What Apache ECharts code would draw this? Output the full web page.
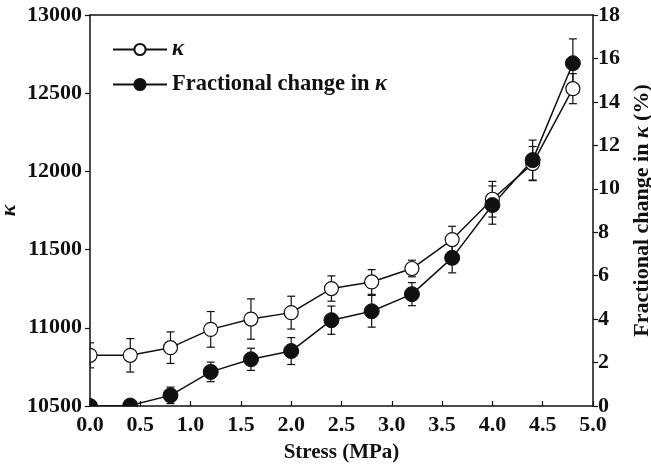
<!DOCTYPE html>
<html>
<head>
<meta charset="utf-8">
<script src="https://cdn.jsdelivr.net/npm/echarts@6/dist/echarts.min.js"></script>
<style>html,body{margin:0;padding:0;background:#fff}#c{width:651px;height:466px}</style>
</head>
<body>
<div id="c"></div>
<script>
const stress = [0, 0.4, 0.8, 1.2, 1.6, 2.0, 2.4, 2.8, 3.2, 3.6, 4.0, 4.4, 4.8];
const kappa = [10824, 10824, 10873, 10990, 11056, 11097, 11251, 11293, 11379, 11564, 11822, 12050, 12529];
const kappaErr = [80, 107, 101, 114, 129, 105, 81, 79, 53, 85, 114, 109, 96];
const fracChange = [0, 0.02, 0.49, 1.57, 2.15, 2.53, 3.95, 4.36, 5.15, 6.82, 9.25, 11.32, 15.78];
const fracErr = [0.2, 0.2, 0.38, 0.45, 0.51, 0.62, 0.65, 0.73, 0.53, 0.69, 0.88, 0.92, 1.12];
const xTicks = ['0.0','0.5','1.0','1.5','2.0','2.5','3.0','3.5','4.0','4.5','5.0'];

const FONT = 'Liberation Serif';
const chart = echarts.init(document.getElementById('c'), null, {renderer: 'canvas'});

const GL = 90, GR = 58, GT = 15, GB = 60;

function errSeries(vals, errs, yIdx) {
  return {
    type: 'custom',
    xAxisIndex: 0,
    yAxisIndex: yIdx,
    clip: true,
    silent: true,
    z: 1,
    data: stress.map((s, i) => [s, vals[i], errs[i]]),
    renderItem: function (params, api) {
      const x = api.value(0), y = api.value(1), e = api.value(2);
      const top = api.coord([x, y + e]);
      const bot = api.coord([x, y - e]);
      const hw = 4;
      const st = {stroke: '#111', lineWidth: 1.2, fill: null};
      return {
        type: 'group',
        children: [
          {type: 'line', shape: {x1: top[0], y1: top[1], x2: bot[0], y2: bot[1]}, style: st},
          {type: 'line', shape: {x1: top[0]-hw, y1: top[1], x2: top[0]+hw, y2: top[1]}, style: st},
          {type: 'line', shape: {x1: bot[0]-hw, y1: bot[1], x2: bot[0]+hw, y2: bot[1]}, style: st}
        ]
      };
    }
  };
}

const labelStyle = {fontFamily: FONT, fontWeight: 'bold', fontSize: 22, color: '#111'};
function rich(sz) {
  return {
    b: {fontFamily: FONT, fontWeight: 'bold', fontSize: sz, color: '#111'},
    i: {fontFamily: FONT, fontWeight: 'bold', fontStyle: 'italic', fontSize: sz, color: '#111'}
  };
}

chart.setOption({
  animation: false,
  backgroundColor: '#fff',
  grid: {left: GL, right: GR, top: GT, bottom: GB, containLabel: false, outerBoundsMode: 'none'},
  graphic: [
    {type: 'rect', silent: true, z: 5, shape: {x: 0, y: 0, width: GL - 0.5, height: 466}, style: {fill: '#fff'}},
    {type: 'rect', silent: true, z: 5, shape: {x: 0, y: 466 - GB + 0.5, width: 651, height: GB}, style: {fill: '#fff'}}
  ],
  legend: {
    orient: 'vertical',
    left: 107,
    top: 33,
    z: 6,
    itemWidth: 54,
    itemHeight: 14,
    itemGap: 12,
    textStyle: {fontFamily: FONT, fontWeight: 'bold', fontSize: 22.5, color: '#111', rich: rich(22.5)},
    formatter: function (name) {
      if (name === 'k') return '{i|κ}';
      return '{b|Fractional change in }{i|κ}';
    },
    data: ['k', 'f']
  },
  xAxis: [{
    type: 'value', min: 0, max: 5, interval: 0.5, z: 10,
    name: 'Stress (MPa)', nameLocation: 'middle', nameGap: 36,
    nameTextStyle: {fontFamily: FONT, fontWeight: 'bold', fontSize: 21, color: '#111'},
    axisLine: {lineStyle: {color: '#111', width: 1.5}},
    axisTick: {inside: true, length: 5, lineStyle: {color: '#111', width: 1.2}},
    axisLabel: Object.assign({margin: 8, formatter: function (v) { return xTicks[Math.round(v * 2)]; }}, labelStyle),
    splitLine: {show: false}
  }, {
    type: 'value', min: 0, max: 5, position: 'top', z: 10,
    axisLine: {show: true, onZero: false, lineStyle: {color: '#111', width: 1.5}},
    axisTick: {show: false}, axisLabel: {show: false}, splitLine: {show: false}
  }],
  yAxis: [{
    type: 'value', min: 10500, max: 13000, interval: 500, z: 10,
    name: 'κ', nameLocation: 'middle', nameGap: 70, nameRotate: 90, nameMoveOverlap: false,
    nameTextStyle: {fontFamily: FONT, fontWeight: 'bold', fontStyle: 'italic', fontSize: 22, color: '#111'},
    axisLine: {show: true, onZero: false, lineStyle: {color: '#111', width: 1.5}},
    axisTick: {show: true, length: 5, lineStyle: {color: '#111', width: 1.2}},
    axisLabel: Object.assign({margin: 8, formatter: function (v) { return String(v); }}, labelStyle),
    splitLine: {show: false}
  }, {
    type: 'value', min: 0, max: 18, interval: 2, position: 'right', z: 10,
    name: '{b|Fractional change in }{i|κ}{b| (%)}', nameLocation: 'middle', nameGap: 38, nameRotate: 90,
    nameTextStyle: {fontFamily: FONT, fontWeight: 'bold', fontSize: 22, color: '#111', rich: rich(22)},
    axisLine: {show: true, onZero: false, lineStyle: {color: '#111', width: 1.5}},
    axisTick: {show: true, length: 5, lineStyle: {color: '#111', width: 1.2}},
    axisLabel: Object.assign({margin: 5}, labelStyle),
    splitLine: {show: false}
  }],
  series: [
    errSeries(kappa, kappaErr, 0),
    errSeries(fracChange, fracErr, 1),
    {
      name: 'k', type: 'line', xAxisIndex: 0, yAxisIndex: 0, z: 3,
      data: stress.map((s, i) => [s, kappa[i]]),
      symbol: 'circle', symbolSize: 14, showAllSymbol: true,
      lineStyle: {color: '#111', width: 1.5},
      itemStyle: {color: '#fff', borderColor: '#111', borderWidth: 1.2}
    },
    {
      name: 'f', type: 'line', xAxisIndex: 0, yAxisIndex: 1, z: 3,
      data: stress.map((s, i) => [s, fracChange[i]]),
      symbol: 'circle', symbolSize: 15, showAllSymbol: true,
      lineStyle: {color: '#111', width: 1.5},
      itemStyle: {color: '#111', borderColor: '#111', borderWidth: 1}
    }
  ]
});
</script>
</body>
</html>
